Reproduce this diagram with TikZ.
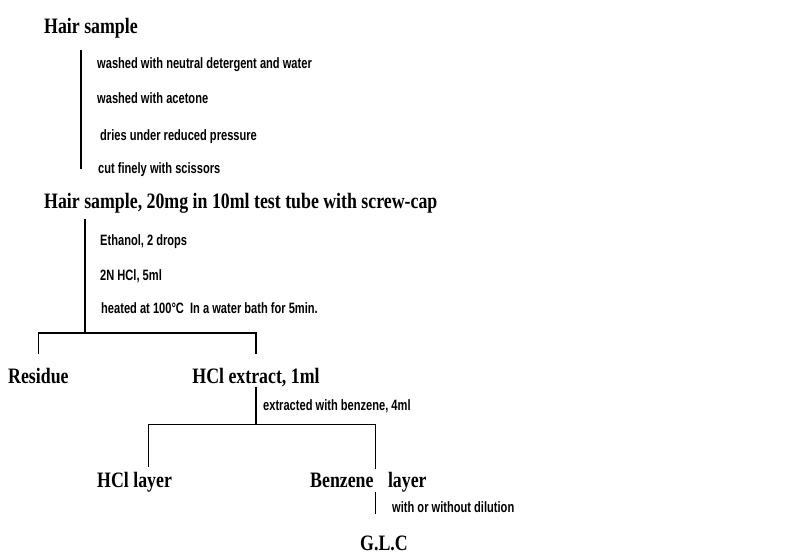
\documentclass[tikz,border=0pt]{standalone}
\usepackage{fontspec}
\newfontfamily\stagefont[FakeStretch=0.81]{Liberation Serif Bold}
\newfontfamily\stepfont[FakeStretch=0.74]{Liberation Sans Bold}
\tikzset{
  stage/.style={inner sep=0pt,anchor=base west,font=\stagefont\fontsize{22}{25}\selectfont},
  stepnote/.style={inner sep=0pt,anchor=base west,font=\stepfont\fontsize{15}{17}\selectfont},
  flow/.style={line width=1.3pt}
}
\begin{document}
\begin{tikzpicture}[x=1pt,y=1pt]
\useasboundingbox (0,0) rectangle (808,-558);

% Stages
\node[stage] (hair) at (44,-33) {Hair sample};
\node[stage] (tube) at (44,-208) {Hair sample, 20mg in 10ml test tube with screw-cap};
\node[stage] (res) at (8,-383) {Residue};
\node[stage,anchor=base] (hclx) at (256,-383) {HCl extract, 1ml};
\node[stage] (hcll) at (97,-487) {HCl layer};
\node[stage] (benzl) at (310,-487) {Benzene\hspace{10pt} layer};
\node[stage] (glc) at (360,-550) {G.L.C};

% Treatment steps
\node[stepnote] (w1) at (97,-68) {washed with neutral detergent and water};
\node[stepnote] (w2) at (97,-103) {washed with acetone};
\node[stepnote] (w3) at (100,-140) {dries under reduced pressure};
\node[stepnote] (w4) at (98,-173) {cut finely with scissors};
\node[stepnote] (e1) at (100,-245) {Ethanol, 2 drops};
\node[stepnote] (e2) at (100,-280) {2N HCl, 5ml};
\node[stepnote] (e3) at (101,-313) {heated at 100°C\ \ In a water bath for 5min.};
\node[stepnote] (ext) at (263,-410) {extracted with benzene, 4ml};
\node[stepnote] (dil) at (392,-512) {with or without dilution};

% Junctions
\coordinate (h1) at ([shift={(37,-12)}]hair.south west);
\coordinate (t1) at ([shift={(41,-6)}]tube.south west);
\coordinate (j1) at ([shift={(41,-120)}]tube.south west);
\coordinate (j2) at ([yshift=-38]hclx.south);
\coordinate (b1) at ([xshift=7]benzl.south);

% Connectors
\draw[flow,shorten >=24pt] (h1) -- (h1 |- tube.north);
\draw[flow] (t1) -- (j1);
\draw[flow] ([yshift=14]res.north) |- (j1) -| ([yshift=14]hclx.north);
\draw[flow] (hclx.south) -- (j2);
\draw[flow] ([shift={(14,5)}]hcll.north) |- (j2) -| ([shift={(7,3)}]benzl.north);
\draw[flow,shorten >=21pt] (b1) -- (b1 |- glc.north);
\end{tikzpicture}
\end{document}
